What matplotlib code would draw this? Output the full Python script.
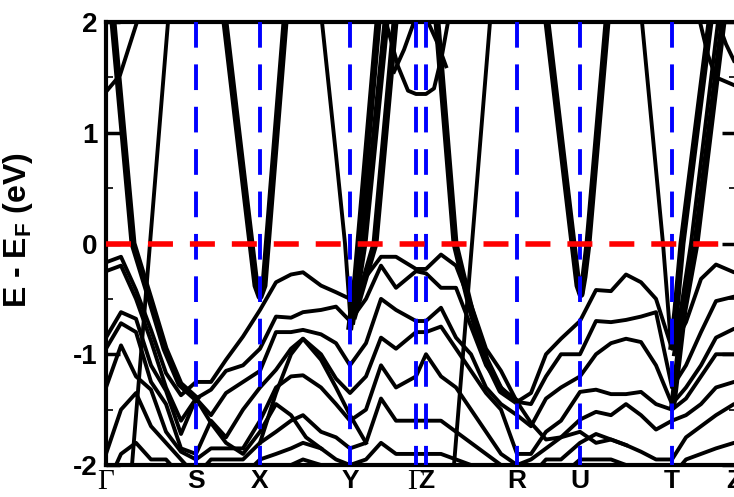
import numpy as np
import matplotlib
matplotlib.use('Agg')
import matplotlib.pyplot as plt

plt.rcParams['mathtext.fontset'] = 'custom'
plt.rcParams['mathtext.bf'] = 'Liberation Sans:bold'
plt.rcParams['mathtext.rm'] = 'Liberation Sans'
plt.rcParams['axes.unicode_minus'] = False

# ---------------- high-symmetry path ----------------
hs_labels = ['Γ', 'S', 'X', 'Y', 'Γ', 'Z', 'R', 'U', 'T', 'Z']
hs_k = [0.00, 0.90, 1.54, 2.44, 3.10, 3.20, 4.11, 4.74, 5.66, 6.28]

# ---------------- valence bands (sampled along the path) ----------------
k_nodes = [0.00, 0.15, 0.30, 0.45, 0.60, 0.75, 0.90, 1.05, 1.20, 1.37, 1.54,
           1.70, 1.85, 1.97, 2.15, 2.30, 2.44, 2.60, 2.75, 2.90, 3.10, 3.20,
           3.35, 3.50, 3.65, 3.80, 3.95, 4.11, 4.25, 4.40, 4.55, 4.74, 4.90,
           5.05, 5.20, 5.35, 5.50, 5.66, 5.80, 5.95, 6.10, 6.28]

vb1 = [-0.17, -0.12, -0.42, -0.78, -1.17, -1.37, -1.25, -1.25, -1.05, -0.84, -0.60,
       -0.35, -0.28, -0.26, -0.38, -0.44, -0.50, -0.30, -0.12, -0.12, -0.23, -0.23,
       -0.10, -0.20, -0.55, -0.95, -1.15, -1.43, -1.35, -1.00, -0.86, -0.70, -0.42,
       -0.43, -0.28, -0.35, -0.50, -0.95, -0.71, -0.32, -0.19, -0.26]
vb2 = [-0.25, -0.20, -0.50, -0.88, -1.30, -1.60, -1.40, -1.32, -1.15, -1.10, -0.95,
       -0.66, -0.67, -0.62, -0.60, -0.57, -0.70, -0.50, -0.20, -0.40, -0.25, -0.27,
       -0.40, -0.40, -0.75, -1.10, -1.30, -1.43, -1.45, -1.20, -1.00, -1.00, -0.70,
       -0.71, -0.69, -0.66, -0.62, -1.30, -1.10, -0.80, -0.52, -0.48]
vb3 = [-0.85, -0.62, -0.68, -1.10, -1.33, -1.72, -1.40, -1.55, -1.35, -1.25, -1.15,
       -0.80, -0.80, -0.78, -0.82, -0.90, -1.10, -0.90, -0.50, -0.60, -0.70, -0.70,
       -0.58, -0.85, -1.00, -1.30, -1.45, -1.55, -1.65, -1.40, -1.30, -1.20, -1.00,
       -0.90, -0.86, -0.89, -1.10, -1.45, -1.30, -1.10, -0.85, -0.77]
vb4 = [-0.95, -0.72, -0.80, -1.25, -1.45, -1.85, -1.90, -1.60, -1.75, -1.50, -1.30,
       -1.14, -0.95, -0.86, -1.00, -1.22, -1.35, -1.20, -0.85, -0.95, -0.80, -0.80,
       -0.75, -0.95, -1.15, -1.35, -1.50, -1.90, -1.90, -1.70, -1.60, -1.34, -1.32,
       -1.36, -1.36, -1.34, -1.45, -1.50, -1.40, -1.20, -1.00, -1.00]
vb5 = [-1.30, -0.92, -1.20, -1.32, -1.70, -1.88, -1.95, -1.85, -1.85, -1.85, -1.60,
       -1.30, -1.20, -1.19, -1.30, -1.45, -1.60, -1.50, -1.10, -1.30, -1.20, -1.00,
       -1.20, -1.30, -1.50, -1.70, -1.90, -2.00, -1.95, -1.85, -1.75, -1.59, -1.52,
       -1.55, -1.45, -1.55, -1.68, -1.60, -1.55, -1.45, -1.30, -1.25]
vb6 = [-1.90, -1.50, -1.35, -1.65, -1.80, -1.95, -2.10, -1.95, -1.95, -1.95, -1.80,
       -1.70, -1.60, -1.55, -1.70, -1.75, -1.85, -1.80, -1.40, -1.60, -1.60, -1.60,
       -1.60, -1.70, -1.80, -1.90, -2.00, -2.10, -2.10, -1.95, -1.95, -1.80, -1.72,
       -1.77, -1.82, -1.88, -1.95, -1.95, -1.75, -1.65, -1.55, -1.45]
vb7 = [-2.20, -1.90, -1.80, -1.95, -1.95, -2.10, -2.20, -2.20, -2.10, -2.10, -1.95,
       -1.90, -1.85, -1.80, -1.85, -1.95, -2.00, -1.95, -1.80, -1.90, -1.90, -1.90,
       -1.90, -1.95, -2.00, -2.10, -2.20, -2.20, -2.20, -2.20, -2.10, -1.95, -1.95,
       -1.95, -2.00, -2.00, -2.10, -2.10, -1.95, -1.90, -1.85, -1.80]
vb8 = [-2.30, -2.30, -2.20, -2.20, -2.20, -2.30, -2.30, -2.30, -2.30, -2.30, -2.20,
       -2.10, -2.00, -1.95, -2.00, -2.10, -2.20, -2.20, -2.00, -2.10, -2.00, -2.00,
       -2.10, -2.20, -2.20, -2.30, -2.30, -2.30, -2.30, -2.30, -2.30, -2.20, -2.20,
       -2.20, -2.20, -2.20, -2.30, -2.30, -2.20, -2.10, -2.00, -2.00]

# extra crossing valence lines seen in the dense lower region
x_cross1_k = [0.90, 1.05, 1.20, 1.37, 1.54, 1.70, 1.85, 2.00, 2.15]
x_cross1_e = [-1.40, -1.62, -1.80, -1.90, -1.70, -1.45, -1.55, -1.75, -1.85]
x_cross2_k = [1.54, 1.70, 1.85, 1.97, 2.15, 2.30, 2.44, 2.60]
x_cross2_e = [-1.80, -1.35, -1.00, -0.86, -1.05, -1.30, -1.55, -1.80]
r_cross_k = [4.11, 4.25, 4.40, 4.55, 4.74, 4.90, 5.05, 5.20]
r_cross_e = [-1.43, -1.62, -1.77, -1.75, -1.70, -1.80, -1.77, -1.82]

# ---------------- conduction / steep bands (k, E) ----------------
c_gs_thick_k = [0.07, 0.27, 0.44, 0.59, 0.74, 0.90]
c_gs_thick_e = [2.00, 0.00, -0.50, -0.95, -1.27, -1.40]
c_gs_thin_k = [0.62, 0.44, 0.35, 0.26]
c_gs_thin_e = [2.00, 0.00, -1.00, -2.00]
c_x_k = [1.19, 1.30, 1.42, 1.50, 1.54, 1.58, 1.66, 1.79]
c_x_e = [2.00, 1.15, 0.23, -0.38, -0.48, -0.38, 0.53, 2.00]
c_y_left_k = [2.16, 2.30, 2.39, 2.43, 2.45]
c_y_left_e = [2.00, 0.80, 0.00, -0.50, -0.75]
c_y_r1_k = [2.44, 2.50, 2.72]
c_y_r1_e = [-0.75, -0.30, 2.00]
c_y_r2_k = [2.46, 2.58, 2.80]
c_y_r2_e = [-0.70, 0.00, 2.00]
c_y_r3_k = [2.48, 2.69, 2.89]
c_y_r3_e = [-0.65, 0.00, 2.00]
c_zr_thick_k = [3.31, 3.49, 3.65, 3.80, 3.95, 4.11]
c_zr_thick_e = [2.00, 0.00, -0.60, -1.05, -1.33, -1.43]
c_zr_thin_k = [3.84, 3.66, 3.57, 3.48]
c_zr_thin_e = [2.00, 0.00, -1.00, -2.00]
c_u_k = [4.41, 4.55, 4.67, 4.72, 4.75, 4.78, 4.82, 5.01]
c_u_e = [2.00, 0.92, 0.00, -0.38, -0.46, -0.30, 0.00, 2.00]
c_t_left_k = [5.36, 5.57, 5.64, 5.66]
c_t_left_e = [2.00, 0.00, -0.80, -0.93]
c_t_r1_k = [5.66, 5.70, 5.76, 6.04]
c_t_r1_e = [-0.93, -0.60, 0.00, 2.00]
c_t_r2_k = [5.67, 5.78, 5.90, 6.17]
c_t_r2_e = [-1.45, -0.60, 0.00, 2.00]
c_t_r3_k = [5.68, 5.85, 6.12]
c_t_r3_e = [-1.00, 0.00, 2.00]
u_g_k = [0.00, 0.14, 0.31]
u_g_e = [1.37, 1.52, 2.00]
u_gz_k = [2.80, 2.92, 3.02, 3.10, 3.20, 3.28, 3.36, 3.42]
u_gz_e = [2.00, 1.60, 1.38, 1.35, 1.35, 1.40, 1.70, 2.00]
u_gz2_k = [2.88, 2.98, 3.08, 3.22, 3.32, 3.40]
u_gz2_e = [1.55, 1.75, 2.00, 2.00, 1.80, 1.60]
u_z1_k = [5.94, 6.02, 6.10, 6.28]
u_z1_e = [2.00, 1.70, 1.50, 1.43]
u_z2_k = [6.12, 6.20, 6.28]
u_z2_e = [2.00, 1.80, 1.65]

thin_bands = [(c_gs_thin_k, c_gs_thin_e), (c_y_left_k, c_y_left_e),
              (c_zr_thin_k, c_zr_thin_e), (c_t_left_k, c_t_left_e),
              (c_t_r3_k, c_t_r3_e), (u_g_k, u_g_e), (u_gz_k, u_gz_e),
              (u_gz2_k, u_gz2_e), (u_z1_k, u_z1_e), (u_z2_k, u_z2_e),
              (x_cross1_k, x_cross1_e), (x_cross2_k, x_cross2_e),
              (r_cross_k, r_cross_e)]
thick_bands = [(c_gs_thick_k, c_gs_thick_e), (c_x_k, c_x_e),
               (c_y_r1_k, c_y_r1_e), (c_y_r2_k, c_y_r2_e), (c_y_r3_k, c_y_r3_e),
               (c_zr_thick_k, c_zr_thick_e), (c_u_k, c_u_e),
               (c_t_r1_k, c_t_r1_e), (c_t_r2_k, c_t_r2_e)]
valence = [vb1, vb2, vb3, vb4, vb5, vb6, vb7, vb8]

fig = plt.figure(figsize=(7.34, 4.97), dpi=100)
ax = fig.add_axes([106/734, 32/497, 630/734, 443/497])

for vb in valence:
    ax.plot(k_nodes, vb, color='black', lw=2.8, solid_joinstyle='round',
            solid_capstyle='round')
for kk, ee in thin_bands:
    ax.plot(kk, ee, color='black', lw=2.8, solid_joinstyle='round')
for kk, ee in thick_bands:
    ax.plot(kk, ee, color='black', lw=5.0, solid_joinstyle='round')

for kx in hs_k[1:-1]:
    ax.plot([kx, kx], [2, -2], color='#0000ff', lw=2.8,
            dashes=(6.6, 4.3), zorder=5)
ax.plot([0, 6.30], [0, 0], color='#ff0000', lw=4.0, dashes=(4.5, 3.05), zorder=6)

ax.set_xlim(0, 6.30)
ax.set_ylim(-2, 2)

ax.set_xticks(hs_k)
ax.set_xticklabels(hs_labels)
for lab, txt in zip(ax.get_xticklabels(), hs_labels):
    if txt == 'Γ':
        lab.set_fontfamily('Liberation Serif')
        lab.set_fontweight('normal')
        lab.set_fontsize(21)
    else:
        lab.set_fontfamily('Liberation Sans')
        lab.set_fontweight('bold')
        lab.set_fontsize(19)
ax.tick_params(axis='x', length=0, pad=3)

ax.set_yticks([-2, -1, 0, 1, 2])
ax.set_yticklabels(['-2', '-1', '0', '1', '2'], fontfamily='Liberation Sans',
                   fontweight='bold', fontsize=20)
ax.set_yticks([-1.5, -0.5, 0.5, 1.5], minor=True)
ax.tick_params(axis='y', which='major', direction='in', length=10, width=2.5,
               left=True, right=True, pad=6)
ax.tick_params(axis='y', which='minor', direction='in', length=5, width=1.2,
               left=True, right=True)

for sp in ax.spines.values():
    sp.set_linewidth(3.0)

ax.set_ylabel(r'E - E$_\mathbf{F}$ (eV)', fontfamily='Liberation Sans',
              fontweight='bold', fontsize=23)
ax.yaxis.set_label_coords(-0.113, 0.53)

fig.savefig('out.png', dpi=100)
